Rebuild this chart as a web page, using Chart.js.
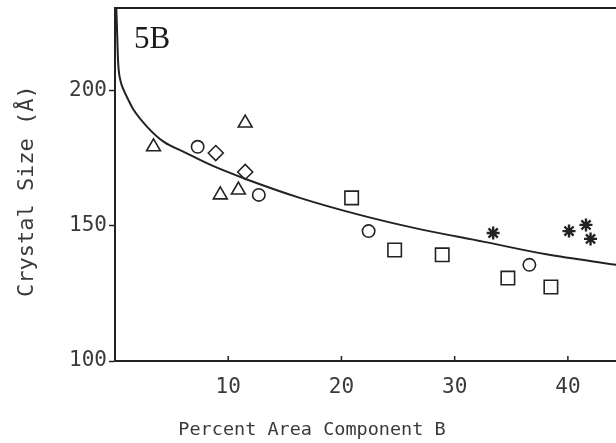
<!DOCTYPE html>
<html>
<head>
<meta charset="utf-8">
<title>Crystal Size vs Percent Area Component B</title>
<script src="https://cdn.jsdelivr.net/npm/chart.js@4/dist/chart.umd.min.js"></script>
<style>
  html, body { margin: 0; padding: 0; background: #fff; overflow: hidden; }
</style>
</head>
<body>
<canvas id="crystalChart" width="616" height="443"></canvas>
<script>
// Panel 5B - crystal size against percent area of component B
// (the plot runs off the right edge, so no right frame line and the
//  x title is placed by hand under the full-width axis centre)

const panelLabel = '5B';
const xTitle = 'Percent Area Component B';
const yTitle = 'Crystal Size (\u00C5) ';
const xTicks = [10, 20, 30, 40];
const yTicks = [100, 150, 200];

// measured samples, one group per marker shape
const triangleX = [3.4, 9.3, 10.9, 11.5];
const triangleY = [179.3, 161.5, 163.3, 188.1];
const circleX = [7.3, 12.7, 22.4, 36.6];
const circleY = [179.3, 161.5, 148.1, 135.6];
const diamondX = [8.9, 11.5];
const diamondY = [177.0, 170.0];
const squareX = [20.9, 24.7, 28.9, 34.7, 38.5];
const squareY = [160.4, 141.1, 139.3, 130.7, 127.4];
const starX = [33.4, 40.1, 41.6, 42.0];
const starY = [147.4, 148.1, 150.4, 145.2];

// fitted trend curve
const curveX = [0.12, 0.2, 0.25, 0.32, 0.5, 0.76, 1.2, 1.64, 2.82, 4.29, 6.3, 8.5, 11.6, 16.4, 21.6, 26.6, 32.5, 38.1, 44.3];
const curveY = [230.5, 220, 213, 208, 203.5, 200.4, 196.5, 193, 186.8, 181.2, 177, 172.5, 167.3, 160.3, 154.1, 149.1, 144.2, 139.5, 135.6];

const ink = '#222';
const textInk = '#3a3a3a';
const monoFont = '"DejaVu Sans Mono", monospace';

function toPoints(xs, ys) {
    return xs.map((x, i) => ({ x: x, y: ys[i] }));
}

function markerSet(label, xs, ys, style, radius, width) {
    return {
        label: label,
        data: toPoints(xs, ys),
        pointStyle: style,
        pointRadius: radius,
        pointHoverRadius: radius,
        pointBorderColor: ink,
        pointBackgroundColor: 'rgba(0,0,0,0)',
        pointBorderWidth: width || 1.6,
        showLine: false
    };
}

// top frame, inward x ticks, x title and the panel label
const framePlugin = {
    id: 'frame',
    afterDraw(chart) {
        const ctx = chart.ctx;
        const area = chart.chartArea;
        const xs = chart.scales.x;
        ctx.save();
        ctx.strokeStyle = ink;
        ctx.lineWidth = 2;
        ctx.beginPath();
        ctx.moveTo(area.left, area.top);
        ctx.lineTo(area.right, area.top);
        ctx.stroke();
        ctx.lineWidth = 1.5;
        xTicks.forEach(v => {
            const px = xs.getPixelForValue(v);
            ctx.beginPath();
            ctx.moveTo(px, area.bottom);
            ctx.lineTo(px, area.bottom - 5);
            ctx.stroke();
        });

        ctx.fillStyle = textInk;
        ctx.font = '18.5px ' + monoFont;
        ctx.textAlign = 'center';
        ctx.textBaseline = 'middle';
        ctx.fillText(xTitle, 312, 430);

        ctx.fillStyle = '#1a1a1a';
        ctx.font = '31px "Liberation Serif", serif';
        ctx.textAlign = 'left';
        ctx.textBaseline = 'alphabetic';
        ctx.fillText(panelLabel, 134, 48);
        ctx.restore();
    }
};

new Chart(document.getElementById('crystalChart'), {
    type: 'scatter',
    data: {
        datasets: [
            {
                label: 'fit',
                data: toPoints(curveX, curveY),
                showLine: true,
                borderColor: ink,
                borderWidth: 2,
                pointRadius: 0,
                cubicInterpolationMode: 'monotone',
                fill: false
            },
            markerSet('triangle', triangleX, triangleY, 'triangle', 8),
            markerSet('circle', circleX, circleY, 'circle', 6.2),
            markerSet('diamond', diamondX, diamondY, 'rectRot', 7.5),
            markerSet('square', squareX, squareY, 'rect', 9.5),
            markerSet('star', starX, starY, 'star', 6.5, 2.4)
        ]
    },
    options: {
        responsive: false,
        animation: false,
        events: [],
        layout: { autoPadding: false, padding: { top: 8, right: 0, bottom: 0, left: 0 } },
        plugins: {
            legend: { display: false },
            tooltip: { enabled: false }
        },
        scales: {
            x: {
                type: 'linear',
                min: 0,
                max: 44.25,
                afterBuildTicks: s => { s.ticks = xTicks.map(v => ({ value: v })); },
                afterFit: s => { s.height = 82; s.paddingLeft = 0; s.paddingRight = 0; },
                grid: { drawOnChartArea: false, drawTicks: false },
                border: { display: true, color: ink, width: 2 },
                ticks: {
                    color: textInk,
                    padding: 14,
                    font: { family: monoFont, size: 21 }
                }
            },
            y: {
                type: 'linear',
                min: 100,
                max: 230.7,
                afterBuildTicks: s => { s.ticks = yTicks.map(v => ({ value: v })); },
                afterFit: s => { s.width = 115; s.paddingTop = 0; s.paddingBottom = 0; },
                grid: { drawOnChartArea: false, drawTicks: true, tickLength: 6, tickColor: ink, tickWidth: 1.5 },
                border: { display: true, color: ink, width: 2 },
                ticks: {
                    color: textInk,
                    padding: 2,
                    font: { family: monoFont, size: 21 }
                },
                title: {
                    display: true,
                    text: yTitle,
                    color: textInk,
                    padding: { top: 14, bottom: 0 },
                    font: { family: monoFont, size: 22, lineHeight: 1.2 }
                }
            }
        }
    },
    plugins: [framePlugin]
});
</script>
</body>
</html>
